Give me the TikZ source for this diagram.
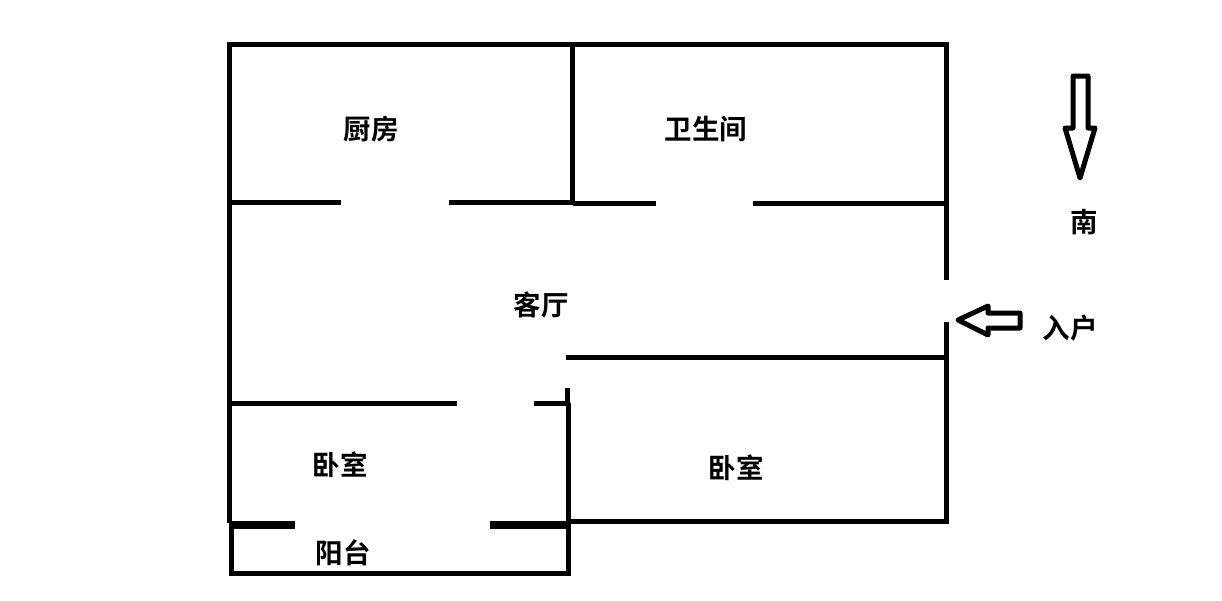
\documentclass[tikz,border=0pt]{standalone}
\usepackage{fontspec}
\newfontfamily\cjk{Noto Sans CJK SC Bold}
\tikzset{
  wall/.style={line width=5pt,black,line cap=butt},
  thickwall/.style={line width=8pt,black},
  arrowshape/.style={line width=5pt,black,line join=round,fill=white},
  room/.style={font=\cjk\fontsize{27.5}{27.5}\selectfont,inner sep=0pt,text=black}
}
\begin{document}
\begin{tikzpicture}[x=1pt,y=-1pt]
\useasboundingbox[fill=white] (0,0) rectangle (1222,600);
% outer walls
\draw[wall] (946.5,280) -- (946.5,44.5) -- (229.5,44.5) -- (229.5,523);
\draw[wall] (946.5,322) -- (946.5,521.5) -- (568,521.5);
% internal walls
\draw[wall] (572.5,45) -- (572.5,205);
\draw[wall] (230,202.5) -- (341,202.5);
\draw[wall] (449,202.5) -- (573,202.5);
\draw[wall] (573,203.5) -- (656,203.5);
\draw[wall] (753,203.5) -- (949,203.5);
\draw[wall] (566,357.5) -- (947,357.5);
\draw[wall] (567,388) -- (567,403);
\draw[wall] (568.5,403) -- (568.5,573);
\draw[wall] (230,403) -- (457,403);
\draw[wall] (534,403) -- (569,403);
% balcony
\draw[thickwall] (232,524.5) -- (295,524.5);
\draw[thickwall] (490,524.5) -- (568,524.5);
\draw[wall] (231.5,523) -- (231.5,573) -- (571,573);
% arrows
\draw[arrowshape] (1073,76) -- (1088,76) -- (1088,128) -- (1095,128) -- (1080,178) -- (1065,128) -- (1073,128) -- cycle;
\draw[arrowshape] (958,320) -- (988,306) -- (988,313) -- (1020,313) -- (1020,328) -- (988,328) -- (988,335) -- cycle;
% labels
\node[room] (kitchen) at (371,129) {厨房};
\node[room] (bath) at (706,129) {卫生间};
\node[room] (south) at (1084,222) {南};
\node[room] (living) at (541,305) {客厅};
\node[room] (entry) at (1070,328) {入户};
\node[room] (bed1) at (340,465) {卧室};
\node[room] (bed2) at (736,468) {卧室};
\node[room] (balcony) at (343,553) {阳台};
\end{tikzpicture}
\end{document}
